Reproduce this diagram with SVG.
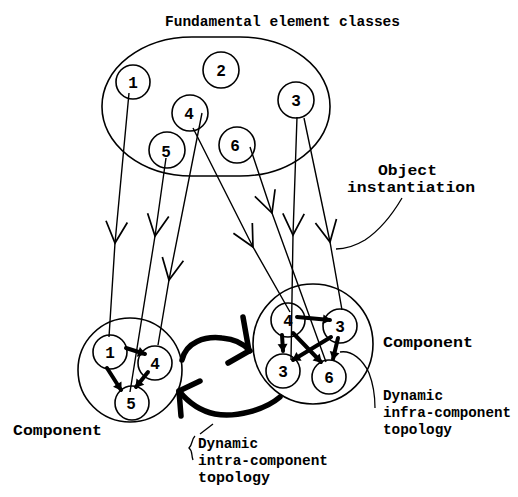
<svg xmlns="http://www.w3.org/2000/svg" width="518" height="497" viewBox="0 0 518 497">
<style>
.c{fill:none;stroke:#000;stroke-width:1.6}
.ln{fill:none;stroke:#000;stroke-width:1.4;marker-mid:url(#v)}
.th{fill:none;stroke:#000;stroke-width:4;stroke-linecap:round}
.big{fill:none;stroke:#000;stroke-width:5.5;stroke-linecap:round;stroke-linejoin:round}
.ld{fill:none;stroke:#000;stroke-width:1.3}
text{font-family:"Liberation Mono","DejaVu Sans Mono",monospace;font-weight:bold;font-size:15px;fill:#000}
.s{font-size:14px}
.n{text-anchor:middle;font-size:16px}
</style>
<defs>
<marker id="v" markerUnits="userSpaceOnUse" markerWidth="30" markerHeight="30" viewBox="-24 -12 28 24" refX="0" refY="0" orient="auto">
<path d="M-20,-10 L0,0 L-20,10" fill="none" stroke="#000" stroke-width="1.6"/>
</marker>
<marker id="t" markerUnits="userSpaceOnUse" markerWidth="12" markerHeight="12" viewBox="-8 -6 10 12" refX="0" refY="0" orient="auto">
<path d="M-7,-5 L1,0 L-7,5 Z" fill="#000"/>
</marker>
</defs>

<g id="title"><text x="165" y="26" textLength="235" lengthAdjust="spacingAndGlyphs">Fundamental element classes</text></g>

<g id="classes">
<rect class="c" x="102" y="37" width="228" height="139" rx="90" ry="69"/>
</g>
<g id="class1"><circle class="c" cx="133" cy="82" r="17"/><text class="n" x="133" y="88">1</text></g>
<g id="class2"><circle class="c" cx="221" cy="70" r="18"/><text class="n" x="221" y="76">2</text></g>
<g id="class4"><circle class="c" cx="190" cy="113" r="18"/><text class="n" x="189" y="119">4</text></g>
<g id="class3"><circle class="c" cx="296" cy="100" r="18"/><text class="n" x="296" y="106">3</text></g>
<g id="class5"><circle class="c" cx="167" cy="150" r="18"/><text class="n" x="166" y="157">5</text></g>
<g id="class6"><circle class="c" cx="237" cy="145" r="18"/><text class="n" x="235" y="151">6</text></g>

<g id="compL">
<circle class="c" cx="130" cy="370" r="52"/>
<g id="compL-1"><circle class="c" cx="110" cy="352" r="17"/><text class="n" x="110" y="358">1</text></g>
<g id="compL-4"><circle class="c" cx="155" cy="363" r="17"/><text class="n" x="155" y="369">4</text></g>
<g id="compL-5"><circle class="c" cx="132" cy="403" r="17"/><text class="n" x="131" y="409">5</text></g>
</g>

<g id="compR">
<circle class="c" cx="313" cy="344" r="60"/>
<g id="compR-4"><circle class="c" cx="288" cy="320" r="17"/><text class="n" x="288" y="326">4</text></g>
<g id="compR-3a"><circle class="c" cx="340" cy="326" r="17"/><text class="n" x="340" y="332">3</text></g>
<g id="compR-3b"><circle class="c" cx="283" cy="371" r="17"/><text class="n" x="283" y="377">3</text></g>
<g id="compR-6"><circle class="c" cx="329" cy="377" r="17"/><text class="n" x="329" y="383">6</text></g>
</g>

<g id="connectors">
<path class="ln" d="M129,93 L115,243 L109,337"/>
<path class="ln" d="M166,158 L155,236 L130,392"/>
<path class="ln" d="M202,113 L169,280 L158,345"/>
<path class="ln" d="M193,128 L253,247 L290,312"/>
<path class="ln" d="M250,147 L272,213 L326,362"/>
<path class="ln" d="M297,117 L293,235 L291,360"/>
<path class="ln" d="M304,118 L330,242 L342,310"/>

<path class="th" d="M126,348 L145,354" marker-end="url(#t)"/>
<path class="th" d="M107,368 L121,390" marker-end="url(#t)"/>
<path class="th" d="M148,372 L136,387" marker-end="url(#t)"/>

<path class="th" d="M297,317 L330,320" marker-end="url(#t)"/>
<path class="th" d="M282,335 L283,351" marker-end="url(#t)"/>
<path class="th" d="M293,333 L321,362" marker-end="url(#t)"/>
<path class="th" d="M331,337 L293,360" marker-end="url(#t)"/>
<path class="th" d="M338,338 L333,359" marker-end="url(#t)"/>

<path class="big" d="M182,360 C186,342 205,336 222,338 C236,339 245,345 250,351"/>
<path class="big" d="M243,317 L249,351 L228,363"/>
<path class="big" d="M280,397 C265,410 235,418 215,414 C200,411 188,402 179,391"/>
<path class="big" d="M200,381 L179,391 L181,416"/>

<path class="ld" d="M402,198 C392,215 380,230 365,240 C355,246 345,249 336,249"/>
<path class="ld" d="M340,352 C352,350 363,360 369,373 C374,386 375,398 375,408"/>
<path class="ld" d="M213,424 L200,434"/>
<path class="ld" d="M195,436 C191,440 193,444 189,448 C193,451 191,455 193,460"/>
</g>

<g id="labels">
<text x="378" y="175" textLength="59" lengthAdjust="spacingAndGlyphs">Object</text>
<text x="347" y="192" textLength="128" lengthAdjust="spacingAndGlyphs">instantiation</text>
<text x="383" y="347" textLength="90" lengthAdjust="spacingAndGlyphs">Component</text>
<text x="13" y="435" textLength="89" lengthAdjust="spacingAndGlyphs">Component</text>
<text class="s" x="383" y="400" textLength="60" lengthAdjust="spacingAndGlyphs">Dynamic</text>
<text class="s" x="383" y="417" textLength="128" lengthAdjust="spacingAndGlyphs">infra-component</text>
<text class="s" x="383" y="434" textLength="69" lengthAdjust="spacingAndGlyphs">topology</text>
<text class="s" x="198" y="448" textLength="60" lengthAdjust="spacingAndGlyphs">Dynamic</text>
<text class="s" x="198" y="465" textLength="130" lengthAdjust="spacingAndGlyphs">intra-component</text>
<text class="s" x="198" y="482" textLength="72" lengthAdjust="spacingAndGlyphs">topology</text>
</g>
</svg>
